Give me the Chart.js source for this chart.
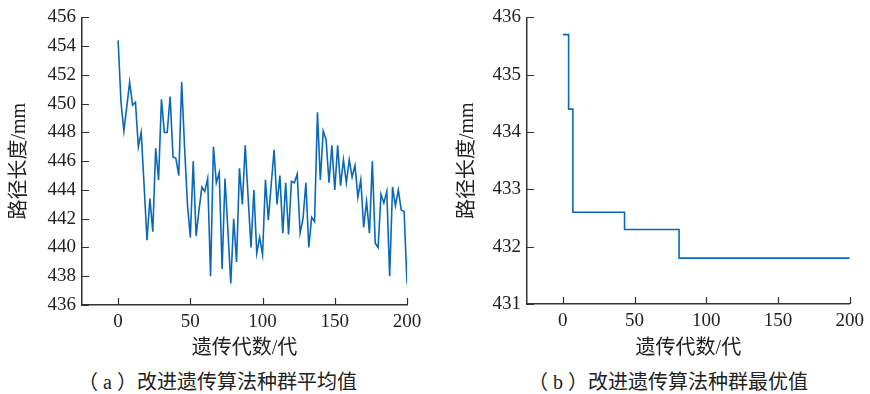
<!DOCTYPE html>
<html>
<head>
<meta charset="utf-8">
<script src="https://cdn.jsdelivr.net/npm/chart.js@4"></script>
<style>
  body { margin: 0; background: #fff; width: 870px; height: 394px; position: relative; overflow: hidden; }
  canvas { position: absolute; top: 0; }
  #chartA { left: 0; }
  #chartB { left: 440px; }
  .caption { position: absolute; top: 366px; font: 20px "Times New Roman", "Liberation Serif", "DejaVu Serif", "Noto Sans CJK SC", serif; color: #222; white-space: nowrap; }
  #capA { left: 78px; }
  #capB { left: 528px; }
</style>
</head>
<body>
<canvas id="chartA" width="435" height="362"></canvas>
<canvas id="chartB" width="430" height="362"></canvas>
<div class="caption" id="capA">（ a ）改进遗传算法种群平均值</div>
<div class="caption" id="capB">（ b ）改进遗传算法种群最优值</div>
<script>
// generations (every 2nd one) for the population mean curve
const gens = [0, 2, 4, 6, 8, 10, 12, 14, 16, 18, 20, 22, 24, 26, 28, 30, 32, 34, 36, 38,
  40, 42, 44, 46, 48, 50, 52, 54, 56, 58, 60, 62, 64, 66, 68, 70, 72, 74, 76, 78,
  80, 82, 84, 86, 88, 90, 92, 94, 96, 98, 100, 102, 104, 106, 108, 110, 112, 114, 116, 118,
  120, 122, 124, 126, 128, 130, 132, 134, 136, 138, 140, 142, 144, 146, 148, 150, 152, 154, 156, 158,
  160, 162, 164, 166, 168, 170, 172, 174, 176, 178, 180, 182, 184, 186, 188, 190, 192, 194, 196, 198, 200];

const meanLength = [454.4, 450.1, 448.1, 449.8, 451.5, 449.9, 450.1, 447.0, 448.0, 444.3,
  440.5, 443.4, 441.1, 446.9, 444.7, 450.3, 448.0, 448.0, 450.5, 446.3,
  446.2, 445.0, 451.5, 447.0, 443.0, 440.7, 446.0, 440.8, 442.6, 444.2,
  443.9, 444.8, 438.0, 447.0, 444.5, 445.2, 438.5, 444.8, 441.2, 437.5,
  442.0, 439.0, 445.5, 443.0, 447.1, 443.5, 440.0, 444.0, 439.6, 440.7,
  439.5, 444.7, 441.9, 444.4, 446.8, 443.0, 445.0, 441.0, 444.5, 440.9,
  444.6, 444.5, 445.1, 441.0, 442.0, 444.5, 440.0, 442.1, 441.8, 449.4,
  444.7, 448.1, 447.5, 444.5, 447.1, 444.0, 447.1, 444.3, 446.1, 444.5,
  446.1, 444.9, 445.7, 443.5, 444.7, 441.4, 443.2, 441.0, 446.0, 440.3,
  440.0, 443.7, 443.1, 443.9, 438.0, 444.2, 442.9, 444.0, 442.6, 442.5, 437.5];

// best value: generation where it changes, and the value from then on
const bestGens = [0, 4, 7, 43, 81, 200];
const bestLength = [435.7, 434.4, 432.6, 432.3, 431.8, 431.8];

const xTicks = [0, 50, 100, 150, 200];
const yTicksA = [436, 438, 440, 442, 444, 446, 448, 450, 452, 454, 456];
const yTicksB = [431, 432, 433, 434, 435, 436];

const lineColor = '#0a68b8';
const axisColor = '#333';
const textColor = '#222';
const serifs = '"Times New Roman", "Liberation Serif", "DejaVu Serif", serif';
const numFont = { family: serifs, size: 19 };
const cjkFont = { family: '"Times New Roman", "Liberation Serif", "Noto Sans CJK SC", serif', size: 20 };

// MATLAB style tick marks pointing into the plot
const innerTicks = {
    id: 'innerTicks',
    afterDraw(chart) {
        const { ctx, chartArea, scales } = chart;
        ctx.save();
        ctx.strokeStyle = axisColor;
        ctx.lineWidth = 1.2;
        ctx.beginPath();
        scales.x.ticks.forEach(t => {
            const px = Math.round(scales.x.getPixelForValue(t.value)) + 0.5;
            ctx.moveTo(px, chartArea.bottom);
            ctx.lineTo(px, chartArea.bottom - 7);
        });
        scales.y.ticks.forEach(t => {
            const py = Math.round(scales.y.getPixelForValue(t.value)) + 0.5;
            ctx.moveTo(chartArea.left, py);
            ctx.lineTo(chartArea.left + 7, py);
        });
        ctx.stroke();
        ctx.restore();
    }
};

function makeChart(id, points, stepped, yTicks, box) {
    const ctx = document.getElementById(id).getContext('2d');
    return new Chart(ctx, {
        type: 'line',
        data: {
            datasets: [{
                data: points,
                borderColor: lineColor,
                borderWidth: 1.6,
                pointRadius: 0,
                tension: 0,
                stepped: stepped
            }]
        },
        options: {
            responsive: false,
            animation: false,
            layout: { padding: { top: box.top, right: box.right, left: 0, bottom: 0 } },
            plugins: { legend: { display: false }, tooltip: { enabled: false } },
            scales: {
                x: {
                    type: 'linear',
                    min: -25,
                    max: 200,
                    afterBuildTicks: s => { s.ticks = xTicks.map(v => ({ value: v })); },
                    afterFit: s => { s.height = box.xHeight; },
                    grid: { drawOnChartArea: false, drawTicks: false },
                    border: { color: axisColor, width: 1.5 },
                    ticks: { color: textColor, font: numFont, padding: 6, maxRotation: 0 },
                    title: { display: true, text: '遗传代数/代', color: textColor, font: cjkFont, padding: { top: 0, bottom: 1 } }
                },
                y: {
                    min: yTicks[0],
                    max: yTicks[yTicks.length - 1],
                    afterBuildTicks: s => { s.ticks = yTicks.map(v => ({ value: v })); },
                    afterFit: s => { s.width = box.yWidth; },
                    grid: { drawOnChartArea: false, drawTicks: false },
                    border: { color: axisColor, width: 1.5 },
                    ticks: { color: textColor, font: numFont, padding: 6 },
                    title: { display: true, text: '路径长度/mm', color: textColor, font: cjkFont, padding: { top: box.titlePad, bottom: 0 } }
                }
            }
        },
        plugins: [innerTicks]
    });
}

window.onload = function() {
    const meanPoints = gens.map((g, i) => ({ x: g, y: meanLength[i] }));
    const bestPoints = bestGens.map((g, i) => ({ x: g, y: bestLength[i] }));
    makeChart('chartA', meanPoints, false, yTicksA, { top: 14, right: 28, xHeight: 57, yWidth: 82, titlePad: 8 });
    makeChart('chartB', bestPoints, 'before', yTicksB, { top: 15, right: 17, xHeight: 58, yWidth: 87, titlePad: 16 });
};
</script>
</body>
</html>
